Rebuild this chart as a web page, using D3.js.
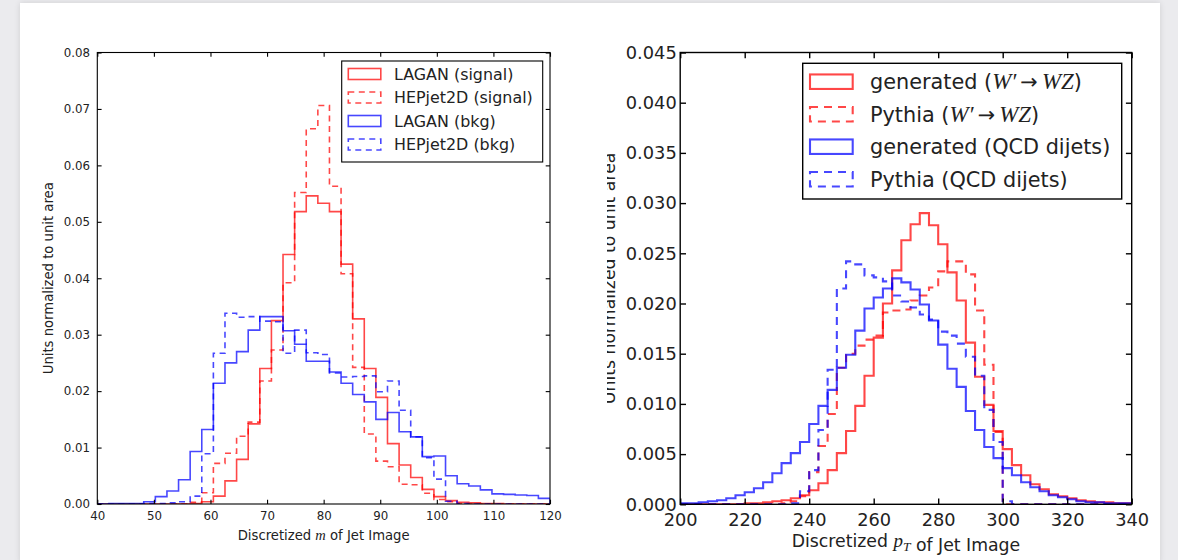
<!DOCTYPE html>
<html>
<head>
<meta charset="utf-8">
<script src="https://cdn.jsdelivr.net/npm/d3@7"></script>
<style>
	body { margin: 0; background: #ebebee; width: 1178px; height: 560px; overflow: hidden; }
	#card { position: absolute; left: 20px; top: 3px; width: 1140px; height: 560px; background: #fff;
	        box-shadow: 0 0 6px rgba(0, 0, 0, 0.12); }
	#chart { position: absolute; left: 0; top: 0; }
</style>
</head>
<body>
<div id="card"></div>
<svg id="chart" width="1178" height="560"></svg>
<script>
/* data: left panel, jet mass, 39 bins from 40 to 120 */
var mass_range = [40, 120];
var mass_nbins = 39;
var lagan_signal = [0, 0, 0, 0, 0, 0, 0, 0, 0.0001, 0.0004, 0.0014, 0.0041, 0.0079, 0.0142, 0.0240, 0.0325,
	0.0442, 0.0518, 0.0546, 0.0533, 0.0518, 0.0425, 0.0328, 0.0240, 0.0189, 0.0107, 0.0069, 0.0047, 0.0026,
	0.0013, 0.0006, 0.0003, 0.0002, 0.0001, 0.0001, 0, 0, 0, 0];
var hepjet_signal = [0, 0, 0, 0, 0, 0, 0, 0, 0.0003, 0.0020, 0.0072, 0.0090, 0.0120, 0.0145, 0.0218, 0.0273,
	0.0392, 0.0552, 0.0665, 0.0706, 0.0563, 0.0408, 0.0242, 0.0124, 0.0076, 0.0066, 0.0035, 0.0034, 0.0019,
	0.0008, 0.0004, 0.0001, 0, 0, 0, 0, 0, 0, 0];
var lagan_bkg = [0, 0.0001, 0.0001, 0.0001, 0.0004, 0.0013, 0.0023, 0.0043, 0.0093, 0.0132, 0.0214, 0.0250,
	0.0270, 0.0308, 0.0332, 0.0332, 0.0307, 0.0283, 0.0253, 0.0253, 0.0234, 0.0214, 0.0194, 0.0181, 0.0150,
	0.0162, 0.0128, 0.0119, 0.0084, 0.0085, 0.0050, 0.0036, 0.0032, 0.0025, 0.0018, 0.0017, 0.0016, 0.0015, 0.0010];
var hepjet_bkg = [0, 0, 0, 0, 0.0001, 0.0001, 0.0002, 0.0004, 0.0014, 0.0089, 0.0267, 0.0338, 0.0331, 0.0332,
	0.0324, 0.0323, 0.0267, 0.0308, 0.0268, 0.0265, 0.0232, 0.0225, 0.0226, 0.0227, 0.0199, 0.0218, 0.0166,
	0.0119, 0.0082, 0.0044, 0.0005, 0.0001, 0, 0, 0, 0, 0, 0, 0];
var mass_xticks = [40, 50, 60, 70, 80, 90, 100, 110, 120];
var mass_yticks = [0, 0.01, 0.02, 0.03, 0.04, 0.05, 0.06, 0.07, 0.08];
var mass_legend = ['LAGAN (signal)', 'HEPjet2D (signal)', 'LAGAN (bkg)', 'HEPjet2D (bkg)'];

/* data: right panel, jet pT, 49 bins from 200 to 340 */
var pt_range = [200, 340];
var pt_nbins = 49;
var gen_wz = [0, 0, 0, 0, 0, 0, 0, 0.0001, 0.0001, 0.0002, 0.0003, 0.0004, 0.0006, 0.0009, 0.0014, 0.0021,
	0.0034, 0.0051, 0.0073, 0.0098, 0.0128, 0.0166, 0.0200, 0.0233, 0.0263, 0.0279, 0.0290, 0.0278, 0.0259,
	0.0231, 0.0203, 0.0161, 0.0127, 0.0099, 0.0073, 0.0055, 0.0039, 0.0029, 0.0020, 0.0015, 0.0010, 0.0008,
	0.0006, 0.0004, 0.0003, 0.0002, 0.0002, 0.0001, 0.0001];
var pythia_wz = [0, 0, 0, 0, 0, 0, 0, 0, 0, 0, 0, 0.0001, 0.0003, 0.0008, 0.0032, 0.0058, 0.0090, 0.0136,
	0.0150, 0.0158, 0.0164, 0.0168, 0.0191, 0.0193, 0.0194, 0.0203, 0.0208, 0.0216, 0.0232, 0.0242, 0.0242,
	0.0229, 0.0193, 0.0139, 0.0072, 0, 0, 0, 0, 0, 0, 0, 0, 0, 0, 0, 0, 0, 0];
var gen_qcd = [0.0001, 0.0001, 0.0002, 0.0003, 0.0004, 0.0006, 0.0009, 0.0012, 0.0016, 0.0022, 0.0031, 0.0041,
	0.0051, 0.0062, 0.0080, 0.0098, 0.0114, 0.0136, 0.0149, 0.0173, 0.0195, 0.0206, 0.0215, 0.0225, 0.0221,
	0.0214, 0.0199, 0.0183, 0.0159, 0.0135, 0.0117, 0.0093, 0.0074, 0.0057, 0.0046, 0.0036, 0.0029, 0.0022,
	0.0017, 0.0013, 0.0009, 0.0007, 0.0005, 0.0003, 0.0002, 0.0002, 0.0001, 0.0001, 0.0001];
var pythia_qcd = [0, 0, 0, 0, 0, 0, 0, 0, 0, 0, 0, 0, 0.0001, 0.0013, 0.0034, 0.0074, 0.0134, 0.0215, 0.0242,
	0.0239, 0.0228, 0.0226, 0.0222, 0.0208, 0.0202, 0.0196, 0.0189, 0.0184, 0.0172, 0.0168, 0.0160, 0.0147,
	0.0128, 0.0094, 0.0062, 0.0003, 0, 0, 0, 0, 0, 0, 0, 0, 0, 0, 0, 0, 0];
var pt_xticks = [200, 220, 240, 260, 280, 300, 320, 340];
var pt_yticks = [0, 0.005, 0.010, 0.015, 0.020, 0.025, 0.030, 0.035, 0.040, 0.045];
var pt_legend = ['generated ($W′ → WZ$)', 'Pythia ($W′ → WZ$)', 'generated (QCD dijets)', 'Pythia (QCD dijets)'];

var colors = ['#ff0000', '#ff0000', '#0000ff', '#0000ff'];
var dashed = [false, true, false, true];

var svg = d3.select('#chart');
var defs = svg.append('defs');
var sans = 'DejaVu Sans, sans-serif';
var serif = 'Liberation Serif, DejaVu Serif, serif';

function binEdges(range, n) {
	return d3.range(n + 1).map(function (i) { return range[0] + i * (range[1] - range[0]) / n; });
}

// outline of a step histogram, as matplotlib draws it
function stepPoints(edges, values) {
	var pts = [[edges[0], 0]];
	values.forEach(function (v, i) {
		pts.push([edges[i], v]);
		pts.push([edges[i + 1], v]);
	});
	pts.push([edges[edges.length - 1], 0]);
	return pts;
}

// text with $...$ parts drawn as math (italic serif)
function richText(sel, str, size) {
	str.split('$').forEach(function (part, k) {
		if (k % 2 === 0) {
			if (part) sel.append('tspan').text(part);
			return;
		}
		var pieces = part.split('→');
		pieces.forEach(function (piece, j) {
			if (j > 0) sel.append('tspan').attr('font-family', sans).attr('font-size', size * 1.0).text('\u2009→\u2009');
			piece = piece.trim();
			var sub = piece.split('_');
			sel.append('tspan').attr('font-family', serif).attr('font-style', 'italic')
			   .attr('font-size', size * 1.1).text(sub[0]);
			if (sub[1]) {
				sel.append('tspan').attr('font-family', serif).attr('font-style', 'italic')
				   .attr('font-size', size * 0.78).attr('dy', size * 0.25).text(sub[1]);
				sel.append('tspan').attr('dy', -size * 0.25).text('');
			}
		});
	});
}

function drawPanel(p) {
	var g = svg.append('g');
	if (p.clip) {
		defs.append('clipPath').attr('id', 'fig_' + p.id)
		    .append('rect').attr('x', p.clip[0]).attr('y', 0).attr('width', p.clip[1] - p.clip[0]).attr('height', 560);
		g.attr('clip-path', 'url(#fig_' + p.id + ')');
	}
	var x = d3.scaleLinear().domain(p.xDomain).range([p.left, p.right]);
	var y = d3.scaleLinear().domain(p.yDomain).range([p.bottom, p.top]);

	defs.append('clipPath').attr('id', 'axes_' + p.id)
	    .append('rect').attr('x', p.left).attr('y', p.top)
	    .attr('width', p.right - p.left).attr('height', p.bottom - p.top);

	// histograms
	var line = d3.line()
		.x(function (d) { return x(d[0]); })
		.y(function (d) { return y(d[1]); });
	var hists = g.append('g').attr('clip-path', 'url(#axes_' + p.id + ')');
	p.series.forEach(function (s, i) {
		hists.append('path')
		     .attr('d', line(stepPoints(p.edges, s)))
		     .attr('fill', 'none')
		     .attr('stroke', colors[i])
		     .attr('stroke-opacity', 0.72)
		     .attr('stroke-width', p.lw)
		     .attr('stroke-dasharray', dashed[i] ? p.dash : null);
	});

	// ticks on all four sides, pointing inwards
	function style(a) {
		a.select('.domain').remove();
		a.selectAll('line').attr('stroke', '#000').attr('stroke-width', p.frame);
		a.selectAll('text').attr('font-family', sans).attr('font-size', p.tickFont).attr('fill', '#222');
	}
	g.append('g').attr('transform', 'translate(0,' + p.bottom + ')')
	 .call(d3.axisBottom(x).tickValues(p.xTicks).tickSize(-p.tick).tickPadding(p.xPad).tickFormat(d3.format('d')))
	 .call(style);
	g.append('g').attr('transform', 'translate(0,' + p.top + ')')
	 .call(d3.axisTop(x).tickValues(p.xTicks).tickSize(-p.tick).tickFormat(''))
	 .call(style);
	g.append('g').attr('transform', 'translate(' + p.left + ',0)')
	 .call(d3.axisLeft(y).tickValues(p.yTicks).tickSize(-p.tick).tickPadding(p.yPad).tickFormat(d3.format(p.yFormat)))
	 .call(style);
	g.append('g').attr('transform', 'translate(' + p.right + ',0)')
	 .call(d3.axisRight(y).tickValues(p.yTicks).tickSize(-p.tick).tickFormat(''))
	 .call(style);

	g.append('rect')
	 .attr('x', p.left).attr('y', p.top)
	 .attr('width', p.right - p.left).attr('height', p.bottom - p.top)
	 .attr('fill', 'none').attr('stroke', '#000').attr('stroke-width', p.frame);

	// axis titles
	var xl = g.append('text')
	          .attr('x', (p.left + p.right) / 2).attr('y', p.xLabelY)
	          .attr('text-anchor', 'middle')
	          .attr('font-family', sans).attr('font-size', p.labelFont).attr('fill', '#222');
	richText(xl, p.xLabel, p.labelFont);
	g.append('text')
	 .text('Units normalized to unit area')
	 .attr('transform', 'translate(' + p.yLabelX + ',' + ((p.top + p.bottom) / 2) + ') rotate(-90)')
	 .attr('text-anchor', 'middle')
	 .attr('font-family', sans).attr('font-size', p.labelFont).attr('fill', '#222');

	// legend
	var L = p.legend;
	var lg = g.append('g');
	lg.append('rect')
	  .attr('x', L.x0).attr('y', L.y0).attr('width', L.x1 - L.x0).attr('height', L.y1 - L.y0)
	  .attr('fill', '#fff').attr('stroke', '#000').attr('stroke-width', p.frame);
	p.labels.forEach(function (lab, i) {
		var cy = L.row0 + i * L.step;
		lg.append('rect')
		  .attr('x', L.hx).attr('y', cy - L.hh / 2).attr('width', L.hw).attr('height', L.hh)
		  .attr('fill', 'none')
		  .attr('stroke', colors[i]).attr('stroke-opacity', 0.72).attr('stroke-width', p.lw)
		  .attr('stroke-dasharray', dashed[i] ? p.dash : null);
		var t = lg.append('text')
		          .attr('x', L.tx).attr('y', cy).attr('dy', '0.36em')
		          .attr('font-family', sans).attr('font-size', L.font).attr('fill', '#222');
		richText(t, lab, L.font);
	});
}

/* left figure: jet mass */
drawPanel({
	id: 'mass',
	edges: binEdges(mass_range, mass_nbins),
	series: [lagan_signal, hepjet_signal, lagan_bkg, hepjet_bkg],
	labels: mass_legend,
	xDomain: mass_range, yDomain: [0, 0.08],
	xTicks: mass_xticks, yTicks: mass_yticks, yFormat: '.2f',
	left: 97.3, right: 550, top: 52.5, bottom: 504,
	tick: 4.3, xPad: 8, yPad: 7.3, frame: 1.1, lw: 1.6, dash: '6,4.5',
	tickFont: 11.8, labelFont: 13.2,
	xLabel: 'Discretized $m$ of Jet Image', xLabelY: 539.5, yLabelX: 52.5,
	legend: { x0: 341.7, x1: 542.7, y0: 61, y1: 162, row0: 74, step: 23.5,
	          hx: 348.3, hw: 32.5, hh: 11, tx: 394, font: 15.9 }
});

/* right figure: jet pT (its left edge is cut off in the page) */
drawPanel({
	id: 'pt',
	clip: [607, 1160],
	edges: binEdges(pt_range, pt_nbins),
	series: [gen_wz, pythia_wz, gen_qcd, pythia_qcd],
	labels: pt_legend,
	xDomain: pt_range, yDomain: [0, 0.045],
	xTicks: pt_xticks, yTicks: pt_yticks, yFormat: '.3f',
	left: 680.2, right: 1131.7, top: 52.5, bottom: 504.3,
	tick: 5.8, xPad: 8.7, yPad: 3.5, frame: 1.4, lw: 2.1, dash: '8,6',
	tickFont: 17.8, labelFont: 17.3,
	xLabel: 'Discretized $p_T$ of Jet Image', xLabelY: 547, yLabelX: 615,
	legend: { x0: 802.7, x1: 1121.7, y0: 63.3, y1: 199, row0: 81.7, step: 32.5,
	          hx: 810, hw: 42.7, hh: 14.5, tx: 870, font: 20.8 }
});
</script>
</body>
</html>
